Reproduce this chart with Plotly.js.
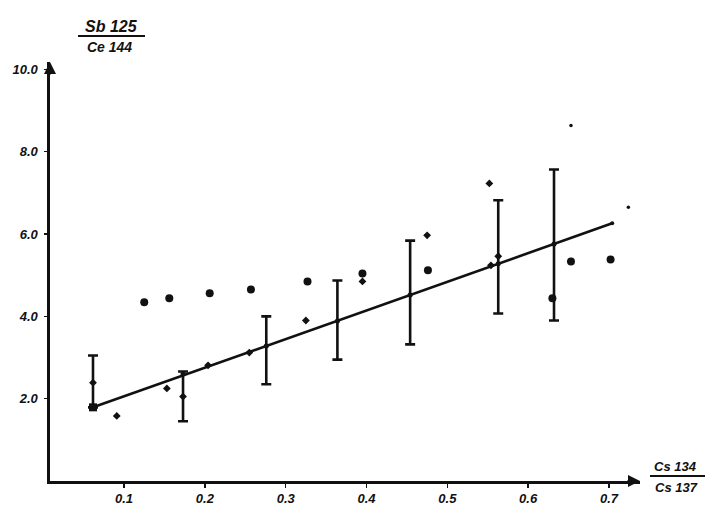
<!DOCTYPE html>
<html>
<head>
<meta charset="utf-8">
<script src="https://cdn.plot.ly/plotly-3.0.1.min.js"></script>
<style>html,body{margin:0;padding:0;background:#fff}#chart{width:721px;height:514px}</style>
</head>
<body>
<div id="chart"></div>
<script>
// ---- data ----
const barX      = [0.0616, 0.173, 0.276, 0.364, 0.454, 0.563, 0.632];
const barCenter = [1.79, 2.60, 3.28, 3.89, 4.52, 5.28, 5.76];
const barTop    = [3.05, 2.66, 4.00, 4.87, 5.84, 6.82, 7.57];
const barBottom = [1.79, 1.45, 2.35, 2.95, 3.32, 4.07, 3.90];

const fitX = [0.0616, 0.704];
const fitY = [1.79, 6.26];

const circX = [0.125, 0.156, 0.206, 0.257, 0.327, 0.395, 0.476, 0.630, 0.653, 0.702];
const circY = [4.34, 4.44, 4.56, 4.65, 4.85, 5.04, 5.12, 4.44, 5.33, 5.38];

const crossX = [0.0616, 0.091, 0.153, 0.173, 0.204, 0.255, 0.325, 0.395, 0.475, 0.552, 0.554, 0.563];
const crossY = [2.39, 1.58, 2.25, 2.05, 2.81, 3.12, 3.90, 4.85, 5.97, 7.23, 5.24, 5.46];

const dotX = [0.653, 0.724];
const dotY = [8.64, 6.65];

const sqX = [0.0616];
const sqY = [1.79];

const yTickVals = [2, 4, 6, 8, 10];
const yTickText = ['2.0', '4.0', '6.0', '8.0', '10.0'];
const xTickVals = [0.1, 0.2, 0.3, 0.4, 0.5, 0.6, 0.7];
const xTickText = ['0.1', '0.2', '0.3', '0.4', '0.5', '0.6', '0.7'];

const yNum = 'Sb 125', yDen = 'Ce 144';
const xNum = 'Cs 134', xDen = 'Cs 137';

// ---- drawing ----
const INK = '#111';
const FONT = {family: 'Liberation Sans, DejaVu Sans, sans-serif', size: 13, color: INK, weight: 700, style: 'italic'};

const plusArr  = barTop.map((t, i) => t - barCenter[i]);
const minusArr = barBottom.map((b, i) => barCenter[i] - b);

const traces = [
  {x: fitX, y: fitY, mode: 'lines+markers', line: {color: INK, width: 2.6},
   marker: {color: INK, size: 4}, hoverinfo: 'skip'},
  {x: barX, y: barCenter, mode: 'markers', marker: {color: INK, size: 5},
   error_y: {type: 'data', symmetric: false, array: plusArr, arrayminus: minusArr,
             color: INK, thickness: 2.6, width: 5}},
  {x: circX, y: circY, mode: 'markers', marker: {color: INK, size: 8, symbol: 'circle'}},
  {x: crossX, y: crossY, mode: 'markers', marker: {color: INK, size: 6, symbol: 'diamond'}},
  {x: dotX, y: dotY, mode: 'markers', marker: {color: INK, size: 3.5, symbol: 'circle'}},
  {x: sqX, y: sqY, mode: 'markers', marker: {color: INK, size: 8, symbol: 'square'}}
];

// pixel -> paper helpers (plot area 50..640 x, 62..481 y)
const L = 50, R = 81, T = 62, B = 33, W = 721, H = 514;
const pw = W - L - R, ph = H - T - B;
const px = v => (v - L) / pw;
const py = v => (H - B - v) / ph;

const layout = {
  width: W, height: H,
  margin: {l: L, r: R, t: T, b: B},
  paper_bgcolor: '#fff', plot_bgcolor: '#fff',
  showlegend: false,
  font: FONT,
  xaxis: {range: [0.0084, 0.7384], showgrid: false, zeroline: false,
          showline: true, linecolor: INK, linewidth: 2.6,
          ticks: 'outside', ticklen: 4, tickwidth: 1.5, tickcolor: INK,
          tickvals: xTickVals, ticktext: xTickText, tickfont: FONT},
  yaxis: {range: [0, 10.18], showgrid: false, zeroline: false,
          showline: true, linecolor: INK, linewidth: 2.6,
          ticks: 'outside', ticklen: 3, tickwidth: 1.5, tickcolor: INK,
          ticklabelstandoff: 4,
          tickvals: yTickVals, ticktext: yTickText, tickfont: FONT},
  shapes: [
    {type: 'line', xref: 'paper', yref: 'paper', x0: px(78), x1: px(145), y0: py(36), y1: py(36),
     line: {color: INK, width: 2}},
    {type: 'line', xref: 'paper', yref: 'paper', x0: px(650), x1: px(705), y0: py(476), y1: py(476),
     line: {color: INK, width: 2}}
  ],
  annotations: [
    {xref: 'paper', yref: 'paper', x: 1, y: 0, ax: -14, ay: 0, text: '', showarrow: true,
     arrowhead: 2, arrowsize: 1.2, arrowwidth: 2, arrowcolor: INK},
    {xref: 'paper', yref: 'paper', x: 0, y: 1, ax: 0, ay: 14, text: '', showarrow: true,
     arrowhead: 2, arrowsize: 1.2, arrowwidth: 2, arrowcolor: INK},
    {xref: 'paper', yref: 'paper', x: px(111), y: py(26), text: yNum, showarrow: false,
     font: Object.assign({}, FONT, {size: 16}), xanchor: 'center', yanchor: 'middle'},
    {xref: 'paper', yref: 'paper', x: px(109), y: py(47), text: yDen, showarrow: false,
     font: Object.assign({}, FONT, {size: 14}), xanchor: 'center', yanchor: 'middle'},
    {xref: 'paper', yref: 'paper', x: px(675), y: py(466), text: xNum, showarrow: false,
     font: Object.assign({}, FONT, {size: 13}), xanchor: 'center', yanchor: 'middle'},
    {xref: 'paper', yref: 'paper', x: px(676), y: py(487), text: xDen, showarrow: false,
     font: Object.assign({}, FONT, {size: 13}), xanchor: 'center', yanchor: 'middle'}
  ]
};

Plotly.newPlot('chart', traces, layout, {displayModeBar: false, staticPlot: true});
</script>
</body>
</html>
